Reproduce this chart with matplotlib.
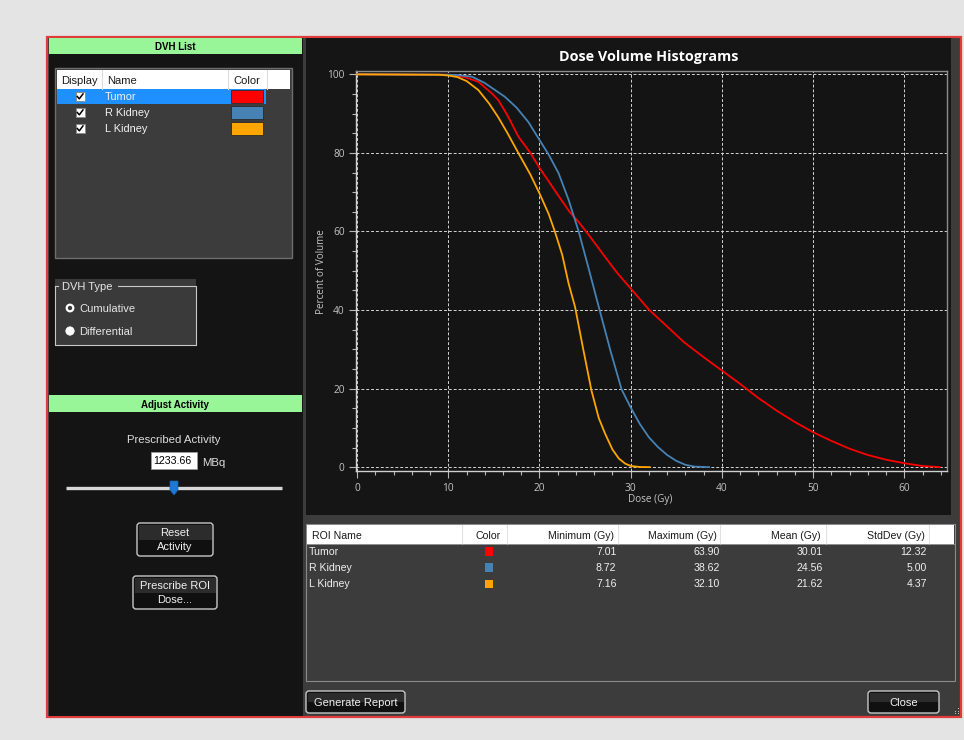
import matplotlib
matplotlib.use('Agg')
import matplotlib.pyplot as plt
from matplotlib.patches import Rectangle, FancyBboxPatch, Circle, Polygon
from matplotlib.ticker import MultipleLocator

W, H = 964, 740

# cumulative DVH curves: dose (Gy) vs percent of volume
tumor_dose = [0, 10, 11.8, 13.3, 14.8, 15.5, 16.5, 17.7, 19, 20, 21, 22.4, 23.3, 24.3, 25.5,
              27.2, 28.5, 30, 32, 34, 35.8, 38, 40, 42, 44, 46, 48, 50, 52, 54, 56, 58, 60, 62, 63.9]
tumor_vol = [100, 99.9, 99.3, 98.1, 95.1, 93.4, 89.5, 84.1, 80, 76.2, 72.8, 68, 65, 62.4, 58.8,
             53.5, 49.5, 45.5, 40.1, 35.8, 31.9, 28, 24.6, 21.2, 17.6, 14.4, 11.5, 8.9, 6.7, 4.7, 3.1, 1.9, 1.0, 0.3, 0]

rkid_dose = [0, 10, 11, 12.6, 14, 15, 16.2, 17.5, 18.8, 20, 21, 22.1, 23.2, 24.3, 25.4, 26.5,
             27.8, 29, 30, 31, 32, 33, 34, 35, 36, 37, 38.6]
rkid_vol = [100, 99.9, 99.8, 99.4, 97.8, 96.2, 94.3, 91.5, 87.8, 83.3, 79.6, 74.8, 68, 60, 50.5, 40.8,
            29.5, 19.8, 15.2, 11, 7.6, 5.1, 3.1, 1.6, 0.6, 0.15, 0]

lkid_dose = [0, 9, 10, 11, 12, 13.3, 14.5, 15.5, 16.5, 17.7, 19, 20, 21, 21.7, 22.5, 23.2, 23.9,
             24.8, 25.7, 26.5, 27.2, 28, 28.7, 29.4, 30, 31, 32.1]
lkid_vol = [100, 99.9, 99.7, 99.3, 98.3, 96.0, 92.5, 89, 85, 79.9, 74.5, 69.7, 64.5, 59.9, 54, 46.7, 40.8,
            30, 19.5, 12.5, 8.5, 4.5, 2.2, 0.9, 0.3, 0.05, 0]

roi_names = ['Tumor', 'R Kidney', 'L Kidney']
roi_colors = ['#ff0000', '#4682b4', '#ffa500']
stat_headers = ['Minimum (Gy)', 'Maximum (Gy)', 'Mean (Gy)', 'StdDev (Gy)']
stat_min = [7.01, 8.72, 7.16]
stat_max = [63.90, 38.62, 32.10]
stat_mean = [30.01, 24.56, 21.62]
stat_sd = [12.32, 5.00, 4.37]
activity = '1233.66'

UI_FONT = ['Liberation Sans', 'DejaVu Sans']
CH_FONT = ['Open Sans', 'DejaVu Sans']

fig = plt.figure(figsize=(W / 100, H / 100), dpi=100, facecolor='#e4e4e4')
ui = fig.add_axes([0, 0, 1, 1])
ui.set_xlim(0, W)
ui.set_ylim(H, 0)
ui.axis('off')


def box(x0, y0, x1, y1, fc, ec='none', lw=0, z=1):
    ui.add_patch(Rectangle((x0, y0), x1 - x0, y1 - y0, fc=fc, ec=ec, lw=lw, zorder=z))


def txt(x, y, s, size=8.0, color='#e6e6e6', ha='left', weight='normal', font=UI_FONT, z=5, **kw):
    # small downward nudge: matplotlib centres on the full glyph box
    ui.text(x, y + 1.2, s, fontsize=size, color=color, ha=ha, va='center', fontweight=weight,
            family=font, zorder=z, **kw)


def button(x0, y0, x1, y1, label):
    ui.add_patch(FancyBboxPatch((x0, y0), x1 - x0, y1 - y0, boxstyle='round,pad=0,rounding_size=3',
                                fc='#101010', ec='none', zorder=3))
    box(x0 + 1.5, y0 + 1.5, x1 - 1.5, (y0 + y1) / 2, '#2c2c2c', z=3.5)
    ui.add_patch(FancyBboxPatch((x0, y0), x1 - x0, y1 - y0, boxstyle='round,pad=0,rounding_size=3',
                                fc='none', ec='#c8c8c8', lw=1.0, zorder=4))
    txt((x0 + x1) / 2, (y0 + y1) / 2 - 0.5, label, ha='center', color='#f0f0f0', linespacing=1.45)


# window frame and panels
box(47, 37, 961, 717, '#3c3c3c', ec='#e03c3c', lw=1.6, z=0.5)
box(49, 38, 303, 716, '#141414')
box(306, 38, 951, 515, '#151515')

# ---- DVH list ----
box(49, 38, 302, 54, '#98f598', z=2)
txt(175, 45.5, 'DVH List', size=7, color='black', ha='center', weight='bold')
box(55, 68, 292, 258, '#3c3c3c', ec='#6e6e6e', lw=1, z=2)
box(57, 70, 290, 89, 'white', z=2.5)
for xs in [102, 228, 267]:
    ui.plot([xs, xs], [70, 89], color='#dcdcdc', lw=0.8, zorder=2.6)
txt(61, 79.5, 'Display', color='#1a1a1a')
txt(107, 79.5, 'Name', color='#1a1a1a')
txt(247, 79.5, 'Color', color='#1a1a1a', ha='center')
box(57, 89, 266, 104, '#1e90ff', z=2.5)
for i, (name, col) in enumerate(zip(roi_names, roi_colors)):
    yc = 96.5 + 16 * i
    box(75.5, yc - 4.5, 84.5, yc + 4.5, 'white', ec='#888888', lw=0.6, z=3)
    ui.plot([77.3, 79.3, 83], [yc, yc + 2.3, yc - 2.6], color='black', lw=1.1, zorder=3.5)
    txt(105, yc - 1, name, size=7.9, color='#f2f2f2')
    box(231, yc - 6.5, 263, yc + 6.5, col, ec='#2a2a2a', lw=0.6, z=3)

# ---- DVH type ----
box(55, 279, 196, 345, '#3a3a3a', z=2)
ui.plot([55, 55, 196, 196, 118], [286, 345, 345, 286, 286], color='#c8c8c8', lw=0.8, zorder=2.5)
ui.plot([55, 58], [286, 286], color='#c8c8c8', lw=0.8, zorder=2.5)
txt(62, 285.5, 'DVH Type')
ui.add_patch(Circle((70, 308), 3.3, fc='#3a3a3a', ec='white', lw=1.6, zorder=3))
txt(79, 307.5, 'Cumulative')
ui.add_patch(Circle((70, 331), 4.2, fc='white', ec='white', lw=0.5, zorder=3))
txt(79, 330.5, 'Differential')

# ---- adjust activity ----
box(49, 395, 302, 412, '#98f598', z=2)
txt(175, 403.5, 'Adjust Activity', size=7, color='black', ha='center', weight='bold')
txt(174, 439, 'Prescribed Activity', size=8.2, ha='center', color='#dcdcdc')
box(151, 452, 197, 469, 'white', ec='#9a9a9a', lw=0.6, z=2)
txt(153, 460, activity, color='black', size=7.7)
txt(202, 462, 'MBq', size=8.2, color='#dcdcdc')
ui.plot([66, 282], [488, 488], color='#d8d8d8', lw=2.4, solid_capstyle='butt', zorder=2)
ui.add_patch(Polygon([(170, 481), (178, 481), (178, 490), (174, 495), (170, 490)],
                     closed=True, fc='#1e78d8', ec='#1560b0', lw=0.5, zorder=3))
button(137, 523, 213, 556, 'Reset\nActivity')
button(133, 576, 217, 609, 'Prescribe ROI\nDose...')

# ---- statistics table ----
box(306, 524, 955, 681, '#3c3c3c', ec='#8a8a8a', lw=0.8, z=2)
box(307, 525, 954, 544, 'white', z=2.5)
for xs in [462, 507, 618, 720, 826, 929]:
    ui.plot([xs, xs], [525, 544], color='#e0e0e0', lw=0.8, zorder=2.6)
ui.plot([307, 954], [544, 544], color='#a0a0a0', lw=0.6, zorder=2.6)
txt(312, 534.5, 'ROI Name', size=7.6, color='#1a1a1a')
txt(488, 534.5, 'Color', size=7.6, color='#1a1a1a', ha='center')
right_edges = [614, 717, 821, 925]
for xr, hd in zip(right_edges, stat_headers):
    txt(xr, 534.5, hd, size=7.6, color='#1a1a1a', ha='right')
for i, name in enumerate(roi_names):
    yc = 551 + 16.3 * i
    txt(309, yc - 0.5, name, size=7.6, color='#f0f0f0')
    box(484.5, yc - 4, 492.5, yc + 4.5, roi_colors[i], z=3)
    vals = [stat_min[i], stat_max[i], stat_mean[i], stat_sd[i]]
    for xr, v in zip([616.5, 719.5, 823, 927], vals):
        txt(xr, yc - 0.5, f'{v:.2f}', size=7.6, color='#f0f0f0', ha='right')

button(306, 691, 405, 713, 'Generate Report')
button(868, 691, 939, 713, 'Close')
for dx, dy in [(955, 713), (957.5, 713), (957.5, 710.5), (955, 710.5), (957.5, 708)]:
    ui.add_patch(Rectangle((dx, dy), 1.2, 1.2, fc='#bdbdbd', ec='none', zorder=3))

# ---- chart ----
txt(649, 55.5, 'Dose Volume Histograms', size=10.4, color='white', ha='center',
    weight='bold', font=CH_FONT)
ax = fig.add_axes([355.7 / W, 1 - 470.5 / H, 591 / W, 399.5 / H])
ax.set_facecolor('#141414')
ax.plot(tumor_dose, tumor_vol, color=roi_colors[0], lw=1.3, zorder=3)
ax.plot(rkid_dose, rkid_vol, color=roi_colors[1], lw=1.3, zorder=3)
ax.plot(lkid_dose, lkid_vol, color=roi_colors[2], lw=1.3, zorder=3)
ax.set_xlim(-0.15, 64.65)
ax.set_ylim(-0.85, 100.85)
ax.xaxis.set_major_locator(MultipleLocator(10))
ax.xaxis.set_minor_locator(MultipleLocator(2))
ax.yaxis.set_major_locator(MultipleLocator(20))
ax.yaxis.set_minor_locator(MultipleLocator(5))
ax.grid(which='major', color='#d4d4d4', ls=(0, (3, 2)), lw=0.7)
ax.tick_params(which='both', direction='out', colors='#b8b8b8', labelcolor='#c4c4c4',
               labelsize=7.3, width=0.8)
ax.tick_params(which='major', length=5)
ax.tick_params(which='minor', length=3)
ax.tick_params(axis='x', which='major', pad=4)
ax.tick_params(axis='y', which='major', pad=3)
for lab in ax.get_xticklabels() + ax.get_yticklabels():
    lab.set_family(CH_FONT)
for side, sp in ax.spines.items():
    sp.set_color('#d0d0d0' if side in ('left', 'bottom') else '#8c8c8c')
    sp.set_linewidth(1.0)
txt(650, 498, 'Dose (Gy)', size=7.2, color='#c4c4c4', ha='center', font=CH_FONT)
txt(321, 270, 'Percent of Volume', size=7.1, color='#c4c4c4', ha='center', font=CH_FONT,
    rotation=90)

fig.savefig('out.png', dpi=100, facecolor=fig.get_facecolor())
